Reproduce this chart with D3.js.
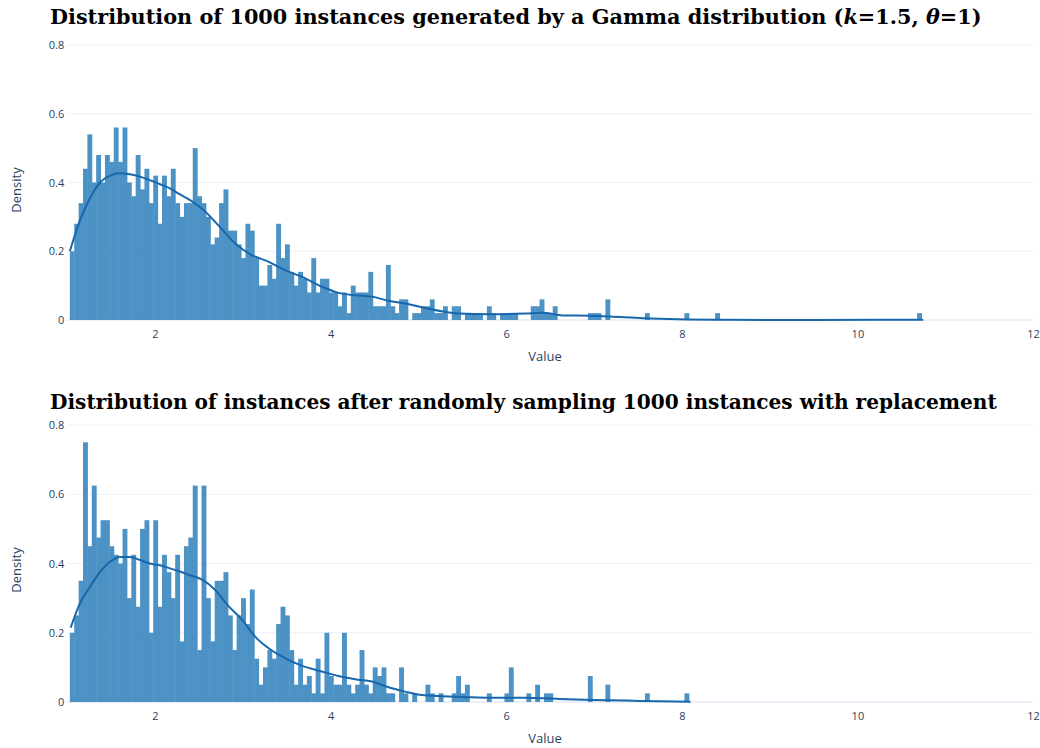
<!DOCTYPE html>
<html>
<head>
<meta charset="utf-8">
<script src="https://cdnjs.cloudflare.com/ajax/libs/d3/7.8.5/d3.min.js"></script>
<style>
  body { margin: 0; background: #fff; }
  svg { display: block; }
</style>
</head>
<body>
<script>
// histogram bins: left edge of first bin and bin width (same grid in both panels)
const binStart = 1.03;
const binWidth = 0.05;

// density of each bin, top panel (original gamma sample)
const originalDensity = [
  0.20, 0.28, 0.34, 0.44, 0.54, 0.40, 0.48, 0.40, 0.48, 0.46,
  0.56, 0.46, 0.56, 0.40, 0.36, 0.48, 0.38, 0.44, 0.34, 0.42,
  0.28, 0.42, 0.36, 0.44, 0.34, 0.30, 0.34, 0.34, 0.50, 0.36,
  0.34, 0.30, 0.22, 0.24, 0.34, 0.38, 0.26, 0.26, 0.22, 0.18,
  0.28, 0.26, 0.18, 0.10, 0.10, 0.16, 0.12, 0.28, 0.18, 0.22,
  0.14, 0.10, 0.14, 0.12, 0.08, 0.18, 0.08, 0.12, 0.12, 0.08,
  0.08, 0.04, 0.08, 0.02, 0.10, 0.08, 0.08, 0.08, 0.14, 0.04,
  0.04, 0.04, 0.16, 0.04, 0.02, 0.06, 0.06, 0, 0.02, 0.02,
  0.04, 0.04, 0.06, 0.02, 0.02, 0.04, 0, 0.04, 0.04, 0,
  0.02, 0.02, 0.02, 0.02, 0, 0.04, 0.02, 0, 0.02, 0.02,
  0.02, 0.02, 0, 0, 0, 0.04, 0.04, 0.06, 0.02, 0.02,
  0.04, 0, 0, 0, 0, 0, 0, 0, 0.02, 0.02,
  0.02, 0, 0.06, 0, 0, 0, 0, 0, 0, 0,
  0, 0.02, 0, 0, 0, 0, 0, 0, 0, 0,
  0.02, 0, 0, 0, 0, 0, 0, 0.02, 0, 0,
  0, 0, 0, 0, 0, 0, 0, 0, 0, 0,
  0, 0, 0, 0, 0, 0, 0, 0, 0, 0,
  0, 0, 0, 0, 0, 0, 0, 0, 0, 0,
  0, 0, 0, 0, 0, 0, 0, 0, 0, 0,
  0, 0, 0, 0.02
];

// density of each bin, bottom panel (bootstrap resample)
const resampledDensity = [
  0.20, 0.25, 0.35, 0.75, 0.45, 0.625, 0.475, 0.525, 0.525, 0.45,
  0.425, 0.40, 0.50, 0.30, 0.425, 0.275, 0.50, 0.525, 0.20, 0.525,
  0.275, 0.425, 0.375, 0.30, 0.425, 0.175, 0.45, 0.475, 0.625, 0.15,
  0.625, 0.30, 0.175, 0.35, 0.35, 0.375, 0.25, 0.15, 0.25, 0.30,
  0.225, 0.325, 0.125, 0.05, 0.10, 0.15, 0.125, 0.225, 0.275, 0.25,
  0.15, 0.05, 0.125, 0.05, 0.075, 0.025, 0.125, 0.025, 0.20, 0.075,
  0.05, 0.05, 0.20, 0.05, 0.025, 0.05, 0.15, 0.05, 0.025, 0.10,
  0.075, 0.10, 0.025, 0.025, 0, 0.10, 0.025, 0, 0.025, 0,
  0, 0.05, 0.025, 0, 0.025, 0, 0, 0.025, 0.075, 0.025,
  0.05, 0, 0, 0, 0, 0.025, 0, 0, 0, 0.025,
  0.10, 0, 0, 0, 0.025, 0, 0.05, 0, 0.025, 0.025,
  0, 0, 0, 0, 0, 0, 0, 0, 0.075, 0,
  0, 0, 0.05, 0, 0, 0, 0, 0, 0, 0,
  0, 0.025, 0, 0, 0, 0, 0, 0, 0, 0,
  0.025
];

// kde curves
const originalKdeX = [1.03, 1.145, 1.26, 1.374, 1.488, 1.60, 1.715, 1.83, 1.94, 2.057,
  2.17, 2.28, 2.40, 2.53, 2.72, 2.91, 3.10, 3.29, 3.48, 3.67, 3.90, 4.09, 4.28, 4.47,
  4.66, 4.85, 5.04, 5.45, 5.84, 6.22, 6.41, 6.67, 6.95, 7.18, 7.56, 7.95, 8.52, 9.5, 10.75];
const originalKdeY = [0.20, 0.29, 0.355, 0.40, 0.42, 0.427, 0.424, 0.417, 0.407, 0.395,
  0.383, 0.366, 0.349, 0.325, 0.276, 0.223, 0.189, 0.17, 0.145, 0.126, 0.097, 0.079, 0.072, 0.068,
  0.056, 0.048, 0.037, 0.019, 0.017, 0.019, 0.021, 0.013, 0.0125, 0.01, 0.005, 0.002, 0.0005, 0, 0.001];

const resampledKdeX = [1.04, 1.145, 1.26, 1.374, 1.488, 1.60, 1.715, 1.83, 1.94, 2.057,
  2.17, 2.29, 2.40, 2.53, 2.68, 2.84, 2.99, 3.14, 3.29, 3.48, 3.67, 3.90, 4.09, 4.28,
  4.47, 4.66, 4.85, 5.04, 5.45, 5.84, 6.22, 6.6, 6.99, 7.37, 7.75, 8.1];
const resampledKdeY = [0.215, 0.285, 0.333, 0.376, 0.405, 0.419, 0.419, 0.41, 0.40, 0.395,
  0.386, 0.376, 0.366, 0.354, 0.325, 0.276, 0.238, 0.189, 0.156, 0.127, 0.105, 0.088, 0.075, 0.066,
  0.059, 0.0425, 0.030, 0.020, 0.015, 0.0125, 0.0125, 0.009, 0.006, 0.004, 0.002, 0.001];

const xTicks = [2, 4, 6, 8, 10, 12];
const yTicks = [0, 0.2, 0.4, 0.6, 0.8];

const width = 1040;
const height = 748;
const tickFont = "'Open Sans', sans-serif";
const tickColor = '#2a3f5f';

const svg = d3.select('body')
  .append('svg')
  .attr('width', width)
  .attr('height', height);

const xScale = d3.scaleLinear()
  .domain([1, 12])
  .range([67.2, 1033]);

// title written in a latex-ish serif, stretched to the width seen in the picture
function addTitle(parts, y, targetWidth) {
  const t = svg.append('text')
    .attr('x', 50)
    .attr('y', y)
    .attr('font-family', "'DejaVu Serif', serif")
    .attr('font-weight', 'bold')
    .attr('font-size', 17)
    .attr('fill', '#000');
  parts.forEach(p => {
    t.append('tspan')
      .attr('font-style', p.italic ? 'italic' : 'normal')
      .text(p.text);
  });
  const len = t.node().getComputedTextLength();
  t.attr('font-size', 17 * targetWidth / len);
}

function drawPanel(density, kdeX, kdeY, yTop, yBottom, densityLabelY, valueLabelY) {
  const yScale = d3.scaleLinear()
    .domain([0, 0.8])
    .range([yBottom, yTop]);

  const g = svg.append('g');

  // horizontal grid
  g.selectAll('line.grid')
    .data(yTicks.filter(d => d > 0))
    .enter()
    .append('line')
    .attr('class', 'grid')
    .attr('x1', xScale(1))
    .attr('x2', xScale(12))
    .attr('y1', d => yScale(d))
    .attr('y2', d => yScale(d))
    .attr('stroke', '#ebf0f8')
    .attr('stroke-width', 1);

  // zero line
  g.append('line')
    .attr('x1', xScale(1))
    .attr('x2', xScale(12))
    .attr('y1', yScale(0))
    .attr('y2', yScale(0))
    .attr('stroke', '#ebf0f8')
    .attr('stroke-width', 2);

  const bins = density.map((v, i) => ({x0: binStart + i * binWidth, v}))
    .filter(d => d.v > 0);

  // opaque fill (plotly blue at 0.8 on white) and a hair of overlap so no seams show
  g.selectAll('rect')
    .data(bins)
    .enter()
    .append('rect')
    .attr('x', d => xScale(d.x0))
    .attr('width', d => xScale(d.x0 + binWidth) - xScale(d.x0) + 0.5)
    .attr('y', d => yScale(d.v))
    .attr('height', d => yScale(0) - yScale(d.v))
    .attr('fill', '#4c92c4');

  const line = d3.line()
    .x(d => xScale(d[0]))
    .y(d => yScale(d[1]))
    .curve(d3.curveMonotoneX);

  g.append('path')
    .datum(kdeX.map((x, i) => [x, kdeY[i]]))
    .attr('d', line)
    .attr('fill', 'none')
    .attr('stroke', '#1767ad')
    .attr('stroke-width', 2);

  const xAxis = d3.axisBottom(xScale)
    .tickValues(xTicks)
    .tickSize(0)
    .tickPadding(10);

  const yAxis = d3.axisLeft(yScale)
    .tickValues(yTicks)
    .tickFormat(d => d === 0 ? '0' : d3.format('.1f')(d))
    .tickSize(0)
    .tickPadding(2);

  const gx = g.append('g')
    .attr('transform', `translate(0, ${yBottom})`)
    .call(xAxis);
  const gy = g.append('g')
    .attr('transform', `translate(${xScale(1) - 1}, 0)`)
    .call(yAxis);

  [gx, gy].forEach(a => {
    a.select('.domain').remove();
    a.selectAll('text')
      .attr('font-family', tickFont)
      .attr('font-size', 11)
      .attr('fill', tickColor);
  });

  g.append('text')
    .attr('transform', `translate(18, ${densityLabelY}) rotate(-90)`)
    .attr('text-anchor', 'middle')
    .attr('dominant-baseline', 'middle')
    .attr('font-family', tickFont)
    .attr('font-size', 13)
    .attr('fill', tickColor)
    .text('Density');

  g.append('text')
    .attr('x', 545)
    .attr('y', valueLabelY)
    .attr('text-anchor', 'middle')
    .attr('dominant-baseline', 'middle')
    .attr('font-family', tickFont)
    .attr('font-size', 13)
    .attr('fill', tickColor)
    .text('Value');
}

addTitle([
  {text: 'Distribution of 1000 instances generated by a Gamma distribution ('},
  {text: 'k', italic: true},
  {text: '=1.5, '},
  {text: 'θ', italic: true},
  {text: '=1)'}
], 24, 932);

addTitle([
  {text: 'Distribution of instances after randomly sampling 1000 instances with replacement'}
], 409, 947);

drawPanel(originalDensity, originalKdeX, originalKdeY, 45, 320, 190, 358);
drawPanel(resampledDensity, resampledKdeX, resampledKdeY, 425, 702, 570, 740);
</script>
</body>
</html>
